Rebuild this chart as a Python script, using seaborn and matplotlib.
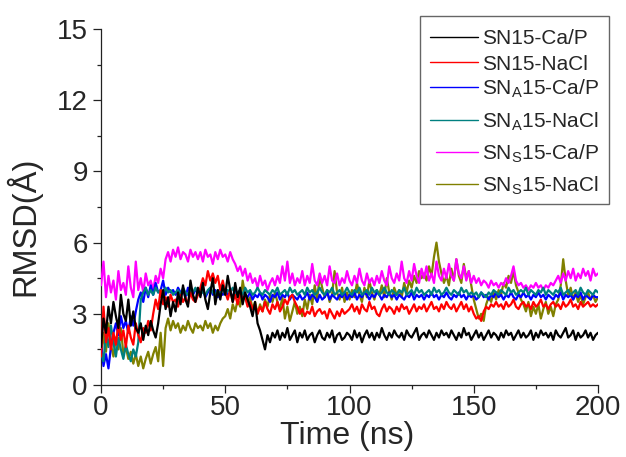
import matplotlib
matplotlib.use('Agg')
import matplotlib.pyplot as plt
import seaborn as sns
import numpy as np
import pandas as pd
from matplotlib.ticker import MultipleLocator
from matplotlib.lines import Line2D
from matplotlib.patches import Rectangle

# time axis (ns), 1 ns sampling
time_ns = np.arange(0, 201)

sn15_cap = [
    1.6, 2.8, 2.2, 3.3, 2.6, 3.5, 2.9, 2.4, 3.8, 3.0,
    2.7, 3.6, 2.5, 3.1, 2.4, 2.2, 2.6, 1.9, 2.5, 2.1,
    2.7, 2.3, 2.0, 2.6, 3.4, 4.0, 3.2, 3.7, 2.9, 3.5,
    3.1, 3.9, 3.4, 4.2, 3.6, 3.3, 4.4, 3.8, 3.5, 4.1,
    3.7, 4.3, 3.6, 3.2, 3.9, 4.5, 3.4, 4.0, 3.6, 4.2,
    3.8, 4.6, 4.0, 3.5, 4.3, 3.7, 4.1, 3.4, 3.9, 3.6,
    3.3, 2.9, 3.5, 2.6, 2.3, 1.9, 1.5, 2.1, 1.8, 2.2,
    2.0, 2.3, 1.9, 2.2, 2.0, 2.4, 1.9, 2.1, 2.3, 1.8,
    2.2, 2.0, 2.3, 1.9, 2.1, 2.2, 1.8, 2.1, 2.3, 2.0,
    1.9, 2.2, 2.0, 2.3, 1.8, 2.1, 2.2, 1.9, 2.0, 2.2,
    2.1, 1.9, 2.3, 2.0, 2.2, 1.8, 2.1, 2.3, 2.0, 2.2,
    1.9, 2.2, 2.0, 2.4, 2.1, 1.9, 2.2, 2.0, 2.3, 2.1,
    2.0, 2.2, 1.9, 2.3, 2.1, 2.0, 2.2, 2.4, 1.9, 2.1,
    2.2, 2.0, 2.3, 2.1, 1.9, 2.2, 2.0, 2.3, 2.1, 2.2,
    2.0, 2.3, 2.1, 1.9, 2.2, 2.0, 2.4, 2.1, 2.2, 1.9,
    2.1, 2.3, 2.0, 2.2, 1.9, 2.1, 2.3, 2.0, 2.2, 2.1,
    1.9, 2.2, 2.0, 2.3, 2.1, 2.2, 1.9, 2.1, 2.3, 2.0,
    2.2, 2.0, 2.1, 2.3, 1.9, 2.2, 2.0, 2.3, 2.1, 2.2,
    2.0, 2.2, 1.9, 2.3, 2.1, 2.0, 2.2, 2.4, 2.0, 2.1,
    2.3, 1.9, 2.2, 2.0, 2.1, 2.3, 2.0, 2.2, 1.9, 2.1,
    2.2,
]

sn15_nacl = [
    1.2, 3.3, 1.8, 2.4, 1.5, 2.2, 1.7, 2.6, 1.9, 2.3,
    1.6, 2.5, 2.0, 1.7, 2.6, 2.1, 1.8, 2.4, 2.2, 2.7,
    2.3, 3.0, 3.6, 3.2, 4.0, 3.4, 3.7, 3.3, 3.8, 3.5,
    3.6, 3.3, 3.8, 3.5, 3.7, 3.4, 3.9, 3.6, 3.5, 3.8,
    4.1, 4.5, 4.2, 4.8, 4.4, 4.7, 4.3, 4.6, 4.0, 4.4,
    3.9, 3.6, 4.0, 3.5, 3.8, 3.4, 3.9, 3.6, 3.7, 3.3,
    3.5, 3.2, 3.4, 3.0, 3.3, 3.1, 3.5, 3.2, 3.0, 3.4,
    3.2, 3.5, 3.1, 3.3, 3.6, 3.4, 3.7, 3.8, 3.5, 3.3,
    3.0, 3.2, 2.9, 3.1, 3.0, 3.3, 2.9, 3.1, 3.2, 3.0,
    3.1, 2.8, 3.2, 3.0, 2.8, 3.1, 2.9, 3.2, 3.0, 3.1,
    3.2, 3.4, 3.1, 3.3, 3.0, 3.4, 3.2, 3.1, 3.5, 3.2,
    3.3, 3.0, 2.9, 3.2, 3.4, 3.1, 3.3, 3.2, 3.0, 3.3,
    3.1, 3.4, 3.2, 3.3, 3.0, 3.2, 3.4, 3.1, 3.3, 3.2,
    3.4, 3.1, 3.3, 3.5, 3.2, 3.3, 3.1, 3.4, 3.2, 3.5,
    3.3, 3.2, 3.4, 3.1, 3.3, 3.5, 3.2, 3.4, 3.1, 3.3,
    3.0, 2.8, 2.9, 2.7, 3.1, 3.3, 3.2, 3.4, 3.3, 3.5,
    3.3, 3.4, 3.2, 3.5, 3.3, 3.4, 3.6, 3.3, 3.2, 3.4,
    3.5, 3.3, 3.4, 3.2, 3.5, 3.3, 3.4, 3.6, 3.3, 3.4,
    3.2, 3.4, 3.5, 3.3, 3.4, 3.2, 3.5, 3.3, 3.4, 3.6,
    3.3, 3.4, 3.2, 3.5, 3.3, 3.4, 3.5, 3.3, 3.4, 3.3,
    3.4,
]

sna15_cap = [
    1.8, 0.8, 1.3, 0.7, 1.6, 2.2, 2.6, 2.1, 2.9, 2.4,
    2.7, 2.2, 2.9, 2.5, 3.1, 3.6, 3.9, 3.5, 4.1, 3.7,
    4.2, 3.8, 4.3, 3.9, 4.0, 4.4, 3.8, 4.1, 3.9, 4.0,
    3.8, 4.1, 3.9, 4.0, 3.7, 4.1, 3.9, 3.8, 4.0, 3.9,
    3.8, 4.0, 3.7, 3.9, 4.1, 3.8, 4.0, 3.7, 3.9, 3.8,
    4.0, 3.8, 3.9, 3.7, 4.0, 3.8, 3.9, 3.6, 3.8, 3.7,
    3.9, 3.6, 3.8, 3.7, 3.9, 3.6, 3.8, 3.7, 3.5, 3.8,
    3.7, 3.9, 3.6, 3.8, 3.7, 3.9, 3.6, 3.8, 3.7, 3.6,
    3.8, 3.6, 3.7, 3.9, 3.6, 3.8, 3.7, 3.5, 3.8, 3.6,
    3.7, 3.9, 3.6, 3.8, 3.7, 3.6, 3.8, 3.7, 3.9, 3.6,
    3.8, 3.7, 3.9, 3.6, 3.8, 3.7, 3.9, 3.8, 3.6, 3.8,
    3.7, 3.9, 3.8, 3.6, 3.8, 3.7, 3.9, 3.7, 3.8, 3.6,
    3.8, 3.7, 3.6, 3.8, 3.7, 3.9, 3.6, 3.8, 3.7, 3.8,
    3.6, 3.8, 3.7, 3.9, 3.7, 3.8, 3.6, 3.8, 3.7, 3.9,
    3.7, 3.6, 3.8, 3.7, 3.9, 3.7, 3.8, 3.6, 3.8, 3.7,
    3.8, 3.6, 3.7, 3.9, 3.7, 3.8, 3.6, 3.8, 3.7, 3.9,
    3.7, 3.8, 3.6, 3.8, 3.7, 3.9, 3.7, 3.6, 3.8, 3.7,
    3.9, 3.7, 3.8, 3.6, 3.8, 3.7, 3.9, 3.7, 3.8, 3.6,
    3.8, 3.7, 3.6, 3.8, 3.7, 3.9, 3.6, 3.8, 3.7, 3.8,
    3.6, 3.8, 3.7, 3.9, 3.6, 3.8, 3.7, 3.6, 3.8, 3.7,
    3.7,
]

sna15_nacl = [
    1.4, 1.0, 2.2, 1.6, 2.5, 1.8, 1.2, 2.0, 1.5, 1.1,
    1.7, 1.3, 1.0, 1.5, 1.2, 1.8, 3.6, 3.9, 4.1, 3.8,
    4.0, 3.8, 4.1, 3.9, 4.0, 3.8, 4.1, 3.9, 4.0, 3.8,
    3.9, 4.0, 3.8, 4.1, 3.9, 3.8, 4.0, 3.9, 4.1, 3.8,
    4.0, 3.9, 3.8, 4.0, 4.1, 3.9, 3.8, 4.0, 3.9, 4.1,
    3.8, 4.0, 3.9, 4.1, 3.8, 3.9, 4.0, 3.8, 4.1, 3.9,
    4.0, 3.8, 3.9, 4.1, 3.9, 3.8, 4.0, 3.9, 3.8, 4.0,
    3.9, 4.1, 3.8, 3.9, 4.0, 3.8, 4.1, 3.9, 4.0, 3.8,
    3.9, 4.0, 3.8, 4.1, 3.9, 4.0, 3.8, 3.9, 4.1, 3.9,
    3.8, 4.0, 3.9, 4.1, 3.8, 3.9, 4.0, 3.8, 3.9, 4.1,
    3.9, 3.8, 4.0, 3.9, 4.1, 3.8, 3.9, 4.0, 3.8, 4.1,
    3.9, 4.0, 3.8, 3.9, 4.1, 3.9, 3.8, 4.0, 3.9, 3.8,
    4.0, 3.9, 4.1, 3.8, 3.9, 4.0, 3.8, 4.1, 3.9, 4.0,
    3.8, 3.9, 4.0, 3.8, 4.1, 3.9, 4.0, 3.8, 3.9, 4.1,
    3.9, 3.8, 4.0, 3.9, 3.8, 4.1, 3.9, 4.0, 3.8, 3.9,
    3.8, 3.9, 3.7, 3.9, 3.8, 3.7, 3.9, 3.8, 4.0, 3.9,
    3.8, 4.0, 3.9, 3.8, 4.1, 3.9, 4.0, 3.8, 3.9, 4.0,
    3.9, 4.1, 3.8, 4.0, 3.9, 3.8, 4.0, 3.9, 4.1, 3.8,
    4.0, 3.9, 3.8, 4.0, 3.9, 4.1, 3.8, 3.9, 4.0, 3.8,
    3.9, 4.0, 3.8, 4.1, 3.9, 3.8, 4.0, 3.9, 3.8, 4.0,
    3.9,
]

sns15_cap = [
    4.2, 5.2, 3.7, 4.6, 3.9, 4.4, 3.6, 4.8, 4.0, 4.3,
    3.8, 5.0, 4.1, 3.7, 5.2, 4.0, 4.5, 3.9, 4.7, 4.2,
    4.4, 4.0, 4.6, 4.3, 4.9, 4.5, 5.3, 5.6, 5.2, 5.7,
    5.4, 5.8, 5.3, 5.6, 5.5, 5.2, 5.7, 5.4, 5.6, 5.3,
    5.6, 5.2, 5.7, 5.4, 5.5, 5.1, 5.6, 5.3, 5.7, 5.4,
    5.5, 5.2, 5.6, 5.3, 5.1, 4.8, 5.0, 4.6, 4.9, 4.4,
    4.7, 4.3, 4.5, 4.1, 4.6, 4.2, 4.4, 4.0, 4.3, 4.5,
    4.2, 4.6, 4.3, 5.0, 4.4, 5.2, 4.3, 4.7, 4.2, 4.5,
    4.3, 4.8, 4.2, 4.6, 4.3, 5.1, 4.4, 4.2, 4.7, 4.3,
    4.6, 4.2, 5.0, 4.4, 4.3, 4.7, 4.2, 4.5, 4.3, 4.8,
    4.4, 4.2, 4.6, 4.3, 4.9, 4.4, 4.2, 4.7, 4.3, 4.5,
    4.2, 4.6, 4.3, 4.8, 4.4, 4.2, 5.0, 4.5, 4.3, 4.7,
    4.4, 5.2, 4.5, 4.3, 4.8, 4.4, 5.1, 4.6, 4.3, 4.9,
    4.5, 5.0, 4.4, 4.7, 4.3, 5.2, 4.6, 4.4, 4.9, 4.5,
    5.1, 4.6, 4.4, 5.3, 4.7, 4.5, 5.0, 4.4, 4.8, 4.3,
    4.6, 4.3, 4.5, 4.2, 4.4, 4.3, 4.1, 4.4, 4.2, 4.3,
    4.1, 4.3, 4.2, 4.5, 4.3, 4.6, 5.0, 4.4, 4.2, 4.3,
    4.1, 4.2, 4.0, 4.2, 4.1, 4.3, 4.1, 4.2, 4.0, 4.2,
    4.1, 4.3, 4.2, 4.4, 4.6, 4.3, 4.7, 4.4, 4.8, 4.5,
    4.9, 4.4, 4.7, 4.5, 4.9, 4.6, 4.8, 4.4, 4.9, 4.6,
    4.7,
]

sns15_nacl = [
    1.0, 2.2, 1.4, 2.6, 1.7, 1.2, 2.0, 1.5, 2.4, 1.3,
    1.6, 1.1, 1.4, 0.9, 1.3, 0.8, 1.2, 0.7, 1.1, 1.4,
    0.9, 1.3, 1.6, 1.0, 2.2, 0.8, 2.4, 2.8, 2.3, 2.7,
    2.4, 2.6, 2.2, 2.5, 2.3, 2.7, 2.4, 2.2, 2.6, 2.4,
    2.5, 2.3, 2.7, 2.4, 2.6, 2.2, 2.5, 2.3, 2.6, 2.8,
    2.9, 3.2, 2.8, 3.4, 3.1, 3.6, 3.3, 4.4, 3.8, 3.5,
    3.7, 3.2, 3.5, 3.0, 3.4, 3.1, 3.6, 3.3, 3.8, 3.5,
    3.9, 3.5, 3.2, 3.7, 2.8, 3.3, 2.7, 3.1, 3.5, 3.0,
    3.3, 2.9, 3.6, 3.2, 3.8, 3.4, 4.2, 3.6, 4.6, 4.1,
    3.7, 4.0, 3.5, 3.8, 4.8, 3.9, 3.6, 4.1, 3.5, 3.9,
    3.6, 4.0, 3.7, 4.3, 3.8, 3.5, 4.1, 3.7, 4.4, 3.9,
    3.6, 4.0, 3.8, 4.2, 3.7, 4.5, 3.9, 3.6, 4.1, 3.8,
    4.0, 3.7, 4.3, 3.9, 4.4, 4.1, 4.6, 4.3, 4.8, 4.5,
    4.7, 4.4, 5.0, 4.6, 5.4, 6.0, 5.2, 4.7, 4.3, 4.6,
    4.2, 4.9, 4.4, 5.3, 4.6, 4.3, 5.1, 4.5, 4.8, 4.2,
    3.6, 3.2, 2.8, 3.0, 2.7, 3.4, 3.7, 3.5, 3.9, 3.6,
    4.0, 3.8, 4.3, 4.1, 4.6, 4.3, 4.8, 4.2, 3.9, 3.6,
    3.4, 3.1, 3.5, 2.9, 3.3, 3.0, 3.4, 2.8, 3.2, 3.5,
    3.0, 3.3, 2.9, 3.4, 3.6, 4.2, 5.3, 4.4, 3.8, 4.1,
    3.6, 3.9, 3.5, 3.8, 3.4, 3.7, 3.9, 3.6, 3.8, 3.5,
    3.7,
]

labels = ['SN15-Ca/P', 'SN15-NaCl', r'SN$_\mathregular{A}$15-Ca/P',
          r'SN$_\mathregular{A}$15-NaCl', r'SN$_\mathregular{S}$15-Ca/P',
          r'SN$_\mathregular{S}$15-NaCl']
colors = ['#000000', '#ff0000', '#0000ff', '#008080', '#ff00ff', '#808000']
series = [sn15_cap, sn15_nacl, sna15_cap, sna15_nacl, sns15_cap, sns15_nacl]
draw_order = [5, 4, 2, 3, 1, 0]

for s in series:
    assert len(s) == len(time_ns), len(s)

sns.set_style('ticks')
plt.rcParams['font.family'] = ['Liberation Sans', 'DejaVu Sans']
plt.rcParams['mathtext.default'] = 'regular'

W, H = 626, 457
fig = plt.figure(figsize=(W / 100, H / 100), dpi=100)
ax = fig.add_axes([101 / W, 1 - 385 / H, 497 / W, 356 / H])

for k, i in enumerate(draw_order):
    df = pd.DataFrame({'t': time_ns, 'rmsd': series[i]})
    sns.lineplot(data=df, x='t', y='rmsd', color=colors[i], lw=1.6,
                 ax=ax, zorder=2 + k)

ax.set_xlim(0, 200)
ax.set_ylim(0, 15)
ax.xaxis.set_major_locator(MultipleLocator(50))
ax.xaxis.set_minor_locator(MultipleLocator(25))
ax.yaxis.set_major_locator(MultipleLocator(3))
ax.yaxis.set_minor_locator(MultipleLocator(1.5))
ax.tick_params(which='major', direction='out', length=5.5, width=0.9,
               labelsize=20, color='#222222')
ax.tick_params(axis='y', which='major', pad=4)
ax.tick_params(axis='x', which='major', pad=2)
ax.tick_params(which='minor', direction='out', length=3, width=0.9,
               color='#222222')
sns.despine(ax=ax)
for sp in ['left', 'bottom']:
    ax.spines[sp].set_linewidth(0.9)
    ax.spines[sp].set_color('#222222')

ax.set_xlabel('Time (ns)', fontsize=23)
ax.set_ylabel('RMSD(Å)', fontsize=23.5)
ax.xaxis.set_label_coords(0.496, -0.1)
ax.yaxis.set_label_coords(-0.12, 0.445)

# legend box drawn in figure pixels to match the original layout
fig.patches.append(Rectangle((420 / W, 1 - 204 / H), 189 / W, 188 / H,
                             transform=fig.transFigure, fill=False,
                             edgecolor='#666666', lw=1))
row_y = [37, 62, 87, 120, 152, 184]
for i, y in enumerate(row_y):
    x0 = 430 if i < 4 else 436
    fig.lines.append(Line2D([x0 / W, 478 / W], [1 - y / H, 1 - y / H],
                            transform=fig.transFigure, color=colors[i], lw=1))
    fig.text(482 / W, 1 - (y + 7.5) / H, labels[i], fontsize=15,
             ha='left', va='baseline')

fig.savefig('out.png', dpi=100, facecolor='white')
